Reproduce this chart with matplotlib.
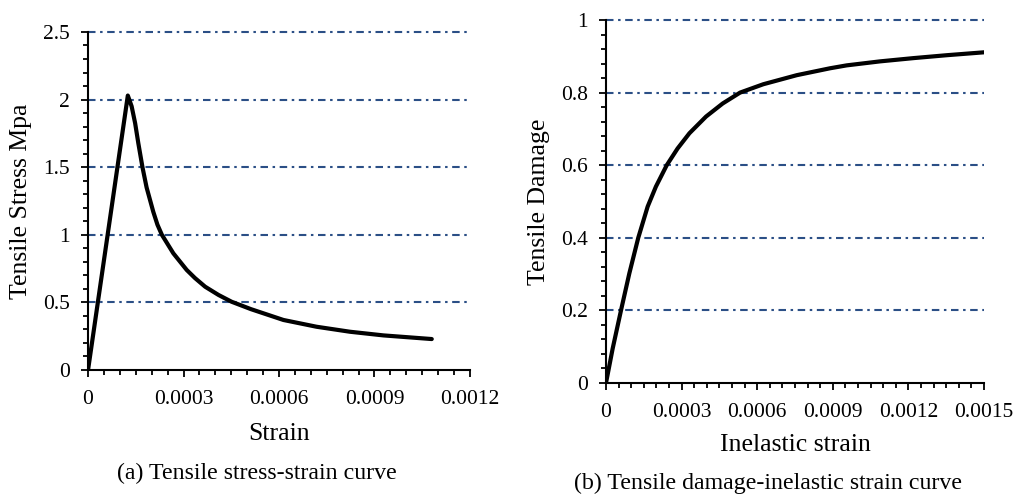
import matplotlib.pyplot as plt
from matplotlib.ticker import MultipleLocator

plt.rcParams['font.family'] = ['Liberation Serif', 'DejaVu Serif']

# tensile stress-strain curve
strain = [0, 0.000125, 0.000137, 0.000148, 0.000158, 0.000171, 0.000184,
          0.000205, 0.000218, 0.000232, 0.000268, 0.00031, 0.000336, 0.000368,
          0.00041, 0.000451, 0.000512, 0.000614, 0.000718, 0.000823, 0.000928,
          0.00108]
stress = [0, 2.03, 1.95, 1.825, 1.677, 1.5, 1.35,
          1.17, 1.075, 1.0, 0.863, 0.74, 0.68, 0.616,
          0.555, 0.505, 0.45, 0.37, 0.32, 0.283, 0.256,
          0.229]

# tensile damage vs inelastic strain
inelastic = [0, 0.0000265, 0.0000595, 0.0000926, 0.000128, 0.0001653, 0.000198,
             0.000241, 0.000284, 0.000331, 0.000397, 0.000463, 0.000532,
             0.000624, 0.000757, 0.000889, 0.000955, 0.001087, 0.00122,
             0.001352, 0.0015]
damage = [0, 0.095, 0.2, 0.302, 0.4, 0.486, 0.541,
          0.6, 0.646, 0.688, 0.734, 0.77, 0.8,
          0.823, 0.848, 0.867, 0.875, 0.886, 0.895,
          0.903, 0.911]

grid_color = '#2B4F86'
grid_style = (0, (3.6, 2.2, 1.2, 2.2))


def style_axes(ax, xmax, xstep, xminor, ymax, ystep, yminor):
    ax.set_xlim(0, xmax)
    ax.set_ylim(0, ymax)
    ax.xaxis.set_major_locator(MultipleLocator(xstep))
    ax.xaxis.set_minor_locator(MultipleLocator(xminor))
    ax.yaxis.set_major_locator(MultipleLocator(ystep))
    ax.yaxis.set_minor_locator(MultipleLocator(yminor))
    ax.xaxis.set_major_formatter(lambda v, p: '0' if v == 0 else f'{v:.4f}')
    ax.yaxis.set_major_formatter(lambda v, p: f'{v:g}')
    for s in ['top', 'right']:
        ax.spines[s].set_visible(False)
    for s in ['left', 'bottom']:
        ax.spines[s].set_linewidth(1.5)
    ax.tick_params(which='major', direction='out', length=5, width=1.3,
                   labelsize=15.5, pad=9.5)
    ax.tick_params(which='minor', direction='out', length=3.5, width=1.3)
    ax.tick_params(axis='y', which='major', pad=8)
    y = ystep
    while y <= ymax + 1e-9:
        ax.axhline(y, color=grid_color, lw=1.5, linestyle=grid_style,
                   zorder=1, clip_on=False)
        y += ystep


fig = plt.figure(figsize=(10.19, 4.95), dpi=100)

ax1 = fig.add_axes([0.0864, 0.2525, 0.3748, 0.6829])
ax1.plot(strain, stress, color='black', lw=3, zorder=3,
         solid_joinstyle='round', solid_capstyle='round')
style_axes(ax1, 0.0012, 0.0003, 0.00005, 2.5, 0.5, 0.1)
ax1.set_xlabel('Strain', fontsize=18.5, labelpad=10)
ax1.set_ylabel('Tensile Stress Mpa', fontsize=18.5, labelpad=8)

ax2 = fig.add_axes([0.5947, 0.2263, 0.3710, 0.7333])
ax2.plot(inelastic, damage, color='black', lw=3, zorder=3,
         solid_joinstyle='round', solid_capstyle='round')
style_axes(ax2, 0.0015, 0.0003, 0.00005, 1.0, 0.2, 0.04)
ax2.set_xlabel('Inelastic strain', fontsize=18.5, labelpad=8.5)
ax2.set_ylabel('Tensile Damage', fontsize=18.5, labelpad=8)

fig.text(256.7 / 1019, 1 - 473 / 495, '(a) Tensile stress-strain curve',
         fontsize=17.2, ha='center', va='center')
fig.text(767.5 / 1019, 1 - 483 / 495, '(b) Tensile damage-inelastic strain curve',
         fontsize=17.2, ha='center', va='center')

fig.savefig('out.png', dpi=100)
